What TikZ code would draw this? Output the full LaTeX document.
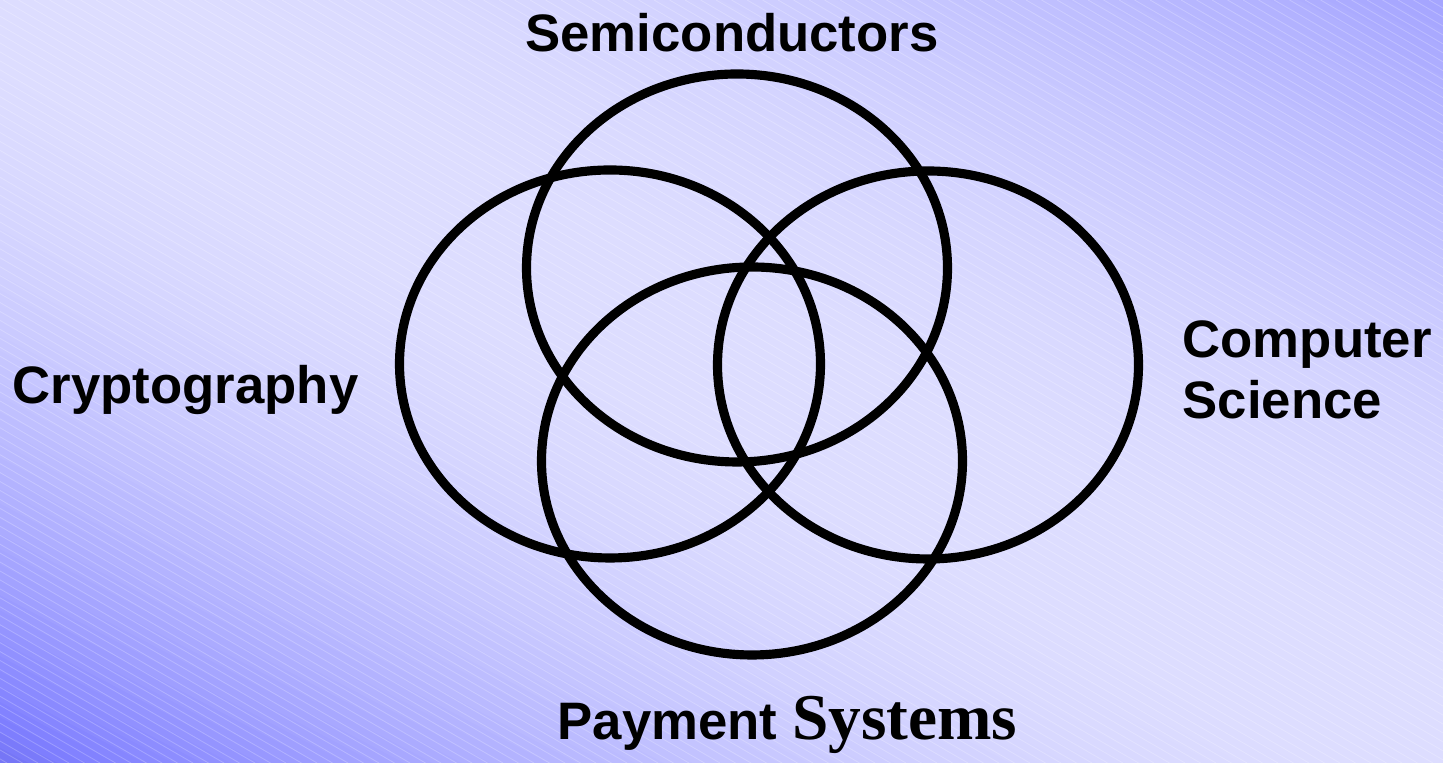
\documentclass[tikz,border=0pt]{standalone}
\usepackage{fontspec}
\setmainfont{Liberation Sans}
\newfontfamily\serifpart{Liberation Serif}
\usetikzlibrary{shapes.geometric}

\begin{document}
\begin{tikzpicture}[
  ring/.style={ellipse, draw=black, line width=2.6pt, minimum width=4.21cm, minimum height=3.88cm, inner sep=0pt},
  field/.style={inner sep=0pt, font=\fontsize{15}{17.6}\selectfont\bfseries}
]
\useasboundingbox (0,0) rectangle (14.43,7.63);
% background
\begin{scope}
\clip (0,0) rectangle (14.43,7.63);
\foreach \i in {0,...,99} {
  \pgfmathsetmacro\sa{\i/50}
  \pgfmathsetmacro\sb{(\i+1.4)/50}
  \pgfmathsetmacro\sm{(\i+0.5)/50}
  \pgfmathtruncatemacro\v{\sm<1 ? 116+106*(1-(1-\sm)^2) : 222-58*(\sm-1)^2}
  \pgfmathtruncatemacro\b{min(255,\v+128)}
  \definecolor{bgstrip}{RGB}{\v,\v,\b}
  \fill[bgstrip] (\sa*14.43,0) -- (\sb*14.43,0) -- (0,\sb*7.63) -- (0,\sa*7.63) -- cycle;
}
\foreach \x in {-13.3,-13.145,...,14.5}
  \draw[white, opacity=0.22, line width=0.25pt] (\x,7.63) -- ++(13.215,-7.63);
\end{scope}

% the four fields
\node[ring] (semi) at (7.37,4.95) {};
\node[ring] (crypto) at (6.10,3.99) {};
\node[ring] (comp) at (9.28,3.98) {};
\node[ring] (pay) at (7.52,3.02) {};

\node[field, anchor=base] (semilabel) at (7.32,7.11) {Semiconductors};
\node[field, anchor=base west] (cryptolabel) at (0.12,3.59) {Cryptography};
\node[field, anchor=base west, align=left] (complabel) at (11.82,3.44) {Computer\\Science};
\node[field, anchor=base west] (paylabel) at (5.57,0.23) {Payment {\serifpart\fontsize{18.6}{20}\selectfont Systems}};
\end{tikzpicture}
\end{document}
